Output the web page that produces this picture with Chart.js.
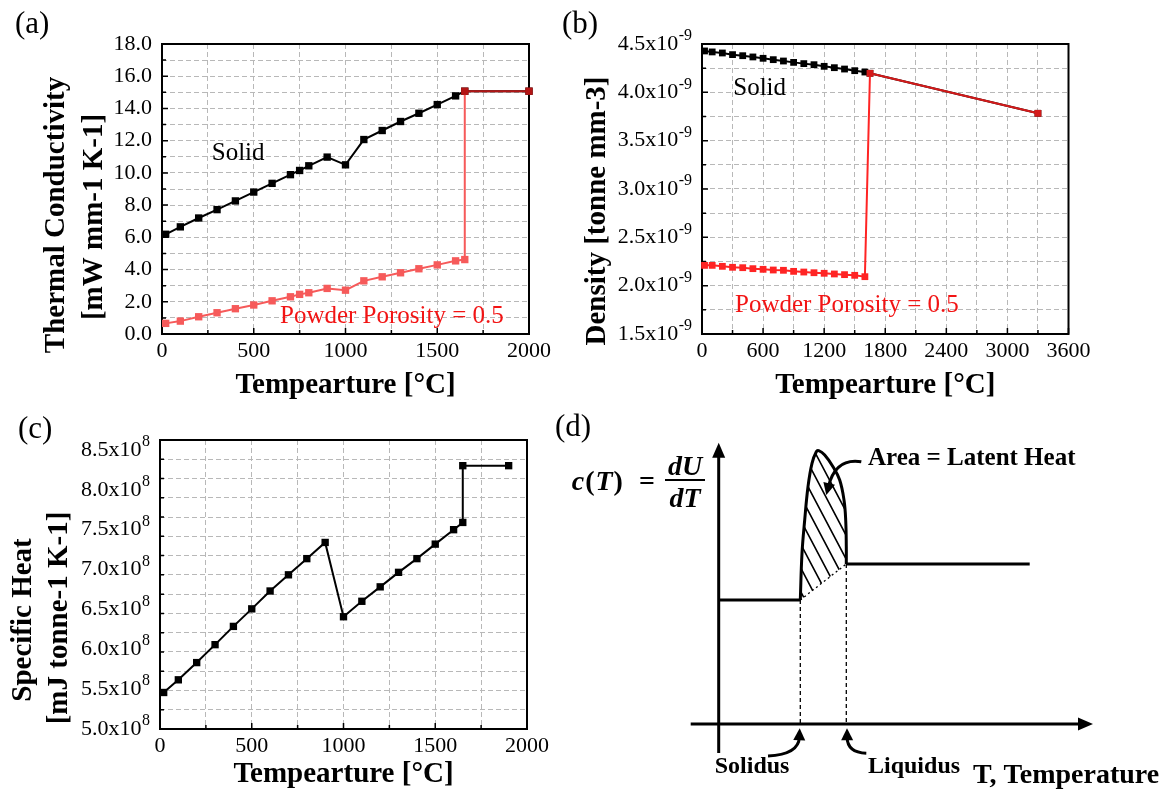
<!DOCTYPE html>
<html>
<head>
<meta charset="utf-8">
<script src="https://cdn.jsdelivr.net/npm/chart.js@4.4.1/dist/chart.umd.min.js"></script>
<style>
  html, body { margin: 0; padding: 0; background: #fff; }
  #page { position: relative; width: 1168px; height: 791px; overflow: hidden; background: #fff; }
  canvas { position: absolute; }
</style>
</head>
<body>
<div id="page">
  <canvas id="chartA" width="560" height="400" style="left:0px;top:0px"></canvas>
  <canvas id="chartB" width="628" height="400" style="left:540px;top:0px"></canvas>
  <canvas id="chartC" width="560" height="391" style="left:0px;top:400px"></canvas>
  <canvas id="chartD" width="628" height="391" style="left:540px;top:400px"></canvas>
</div>
<script>
// ---- (a) thermal conductivity [mW mm-1 K-1] ----
const condTemp = [20, 100, 200, 300, 400, 500, 600, 700, 750, 800, 900, 1000, 1100, 1200, 1300, 1400, 1500, 1600];
const condSolid = [6.19, 6.65, 7.20, 7.72, 8.26, 8.81, 9.35, 9.89, 10.15, 10.44, 10.98, 10.50, 12.07, 12.63, 13.19, 13.70, 14.24, 14.78];
const condPowderTemp = condTemp.concat([1650]);
const condPowder = [0.66, 0.80, 1.07, 1.32, 1.57, 1.80, 2.06, 2.31, 2.46, 2.56, 2.83, 2.72, 3.30, 3.55, 3.80, 4.05, 4.29, 4.54, 4.62];
const condLiquidTemp = [1650, 2000];
const condLiquid = [15.07, 15.07];
const condTicksX = [0, 500, 1000, 1500, 2000];
const condTicksY = [0, 2, 4, 6, 8, 10, 12, 14, 16, 18];

// ---- (b) density [tonne mm-3] ----
const densTemp = [25, 100, 200, 300, 400, 500, 600, 700, 800, 900, 1000, 1100, 1200, 1300, 1400, 1500, 1600];
const densSolid = [4.428e-9, 4.418e-9, 4.407e-9, 4.390e-9, 4.379e-9, 4.366e-9, 4.352e-9, 4.338e-9, 4.324e-9,
  4.310e-9, 4.297e-9, 4.286e-9, 4.269e-9, 4.255e-9, 4.241e-9, 4.224e-9, 4.210e-9];
const densPowder = [2.210e-9, 2.210e-9, 2.200e-9, 2.190e-9, 2.186e-9, 2.176e-9, 2.169e-9, 2.162e-9, 2.159e-9,
  2.148e-9, 2.141e-9, 2.134e-9, 2.128e-9, 2.121e-9, 2.114e-9, 2.107e-9, 2.093e-9];
const densLiquidTemp = [1650, 3300];
const densLiquid = [4.197e-9, 3.783e-9];
const densTicksX = [0, 600, 1200, 1800, 2400, 3000, 3600];
const densTicksY = [1.5, 2.0, 2.5, 3.0, 3.5, 4.0, 4.5]; // x10^-9

// ---- (c) specific heat [mJ tonne-1 K-1] ----
const cpTemp = [20, 100, 200, 300, 400, 500, 600, 700, 800, 900, 1000, 1100, 1200, 1300, 1400, 1500, 1600, 1650, 1650, 1900];
const cpValue = [5.458e8, 5.617e8, 5.833e8, 6.058e8, 6.287e8, 6.507e8, 6.731e8, 6.934e8, 7.137e8, 7.340e8,
  6.408e8, 6.602e8, 6.783e8, 6.965e8, 7.137e8, 7.319e8, 7.500e8, 7.591e8, 8.303e8, 8.303e8];
const cpTicksX = [0, 500, 1000, 1500, 2000];
const cpTicksY = [5.0, 5.5, 6.0, 6.5, 7.0, 7.5, 8.0, 8.5]; // x10^8

// ---- (d) schematic c(T) curve (arbitrary units) ----
const sketchPlateauT = [0, 81.6];
const sketchPlateauC = [124, 124];
const sketchPeakT = [81.6, 83.3, 86, 89.3, 93.3, 97.6, 100, 106, 114.3, 121, 125.3, 127, 127.6, 127.6];
const sketchPeakC = [124, 170.7, 204, 237.3, 260.7, 272.3, 273.3, 269, 257.3, 244, 224, 204, 177.3, 160];
const sketchLiquidT = [127.6, 311];
const sketchLiquidC = [160, 160];
const sketchAxisT = [-28, 374.3];
const sketchAxisC = [-29, 281.3];

const serif = '"Liberation Serif", "Times New Roman", serif';
const pts = (xs, ys, extra) => xs.map((x, i) => Object.assign({ x: x, y: ys[i] }, extra || {}));

// frame, inward ticks, tick labels and texts for panels a-c
const framePlugin = {
  id: 'frame',
  beforeDatasetsDraw(chart, args, o) {
    const { ctx, chartArea: a, scales: { x, y } } = chart;
    const isMajor = (list, scale, v) => list.some(m => Math.abs(m * scale - v) <= Math.abs(v) * 1e-6 + 1e-30);
    ctx.save();
    ctx.strokeStyle = '#000';
    ctx.lineWidth = 1.5;
    ctx.beginPath();
    x.ticks.forEach(t => {
      const px = x.getPixelForValue(t.value);
      const len = isMajor(o.xMajor, 1, t.value) ? 6 : 4;
      ctx.moveTo(px, a.bottom);
      ctx.lineTo(px, a.bottom - len);
    });
    y.ticks.forEach(t => {
      const py = y.getPixelForValue(t.value);
      const len = isMajor(o.yMajor, o.yScale, t.value) ? 6 : 4;
      ctx.moveTo(a.left, py);
      ctx.lineTo(a.left + len, py);
    });
    ctx.stroke();
    ctx.lineWidth = 2;
    ctx.strokeRect(a.left, a.top, a.right - a.left, a.bottom - a.top);
    ctx.restore();
  },
  afterDraw(chart, args, o) {
    const { ctx, chartArea: a, scales: { x, y } } = chart;
    ctx.save();
    ctx.fillStyle = '#000';
    ctx.font = '22px ' + serif;
    ctx.textAlign = 'center';
    ctx.textBaseline = 'top';
    o.xMajor.forEach(v => ctx.fillText(String(v), x.getPixelForValue(v), a.bottom + 6));
    ctx.textAlign = 'right';
    ctx.textBaseline = 'middle';
    o.yMajor.forEach(v => {
      const py = y.getPixelForValue(v * o.yScale);
      const xr = a.left - 10;
      if (o.yExp === undefined) {
        ctx.font = '22px ' + serif;
        ctx.fillText(v.toFixed(1), xr, py);
      } else {
        ctx.font = '16px ' + serif;
        const sw = ctx.measureText(o.yExp).width;
        ctx.fillText(o.yExp, xr, py - 8);
        ctx.font = '22px ' + serif;
        ctx.fillText(v.toFixed(1) + 'x10', xr - sw - 0.5, py);
      }
    });
    (o.texts || []).forEach(t => {
      ctx.save();
      ctx.font = t.font;
      ctx.fillStyle = t.color || '#000';
      ctx.textAlign = t.align || 'left';
      ctx.textBaseline = t.baseline || 'alphabetic';
      let px = t.x, py = t.y;
      if (t.data) { px = x.getPixelForValue(t.x); py = y.getPixelForValue(t.y); }
      ctx.translate(px, py);
      if (t.rot) ctx.rotate(t.rot);
      ctx.fillText(t.text, 0, 0);
      ctx.restore();
    });
    ctx.restore();
  }
};

function axisOpts(min, max, step) {
  return {
    type: 'linear', min: min, max: max,
    afterFit: s => { if (s.isHorizontal()) s.height = 0; else s.width = 0; },
    ticks: { display: false, stepSize: step, autoSkip: false, includeBounds: false },
    grid: { color: '#b8b8b8', lineWidth: 1, drawTicks: false },
    border: { display: false, dash: [5, 3] }
  };
}

function panelChart(id, pad, xAx, yAx, datasets, frame) {
  return new Chart(document.getElementById(id), {
    type: 'scatter',
    data: { datasets: datasets },
    options: {
      responsive: false, animation: false,
      layout: { padding: pad },
      plugins: { legend: { display: false }, tooltip: { enabled: false }, frame: frame },
      scales: { x: xAx, y: yAx }
    },
    plugins: [framePlugin]
  });
}

function series(data, color, extra) {
  return Object.assign({
    data: data, showLine: true, borderColor: color, backgroundColor: color,
    borderWidth: 2, pointStyle: 'rect', pointRadius: 5.2, pointBorderWidth: 0,
    pointBackgroundColor: color, clip: false, tension: 0
  }, extra || {});
}

const boldTitle = 'bold 29px ' + serif;
const note = '25px ' + serif;
const panelFont = '31px ' + serif;

// (a)
const aLight = '#f65a5a', aDark = '#b31515';
panelChart('chartA', { left: 162, top: 44, right: 31, bottom: 66 },
  axisOpts(0, 2000, 250), axisOpts(0, 18, 1),
  [
    series(pts(condPowderTemp, condPowder).concat(pts(condLiquidTemp, condLiquid, { liquid: true })), aLight, {
      order: 0,
      segment: { borderColor: c => (c.p0.raw.liquid && c.p1.raw.liquid) ? aDark : undefined },
      pointBackgroundColor: c => (c.raw && c.raw.liquid) ? aDark : aLight
    }),
    series(pts(condTemp, condSolid).concat(pts(condLiquidTemp, condLiquid)), '#000', { order: 1 })
  ],
  {
    xMajor: condTicksX, yMajor: condTicksY, yScale: 1,
    texts: [
      { text: '(a)', x: 15, y: 33, font: panelFont },
      { text: 'Solid', x: 271, y: 10.77, data: true, font: note },
      { text: 'Powder Porosity = 0.5', x: 643, y: 0.66, data: true, font: note, color: '#f21414' },
      { text: 'Tempearture [\u00B0C]', x: 345.5, y: 393, align: 'center', font: boldTitle },
      { text: 'Thermal Conductivity', x: 57, y: 215, align: 'center', baseline: 'middle', rot: -Math.PI / 2, font: boldTitle },
      { text: '[mW mm-1 K-1]', x: 95, y: 217, align: 'center', baseline: 'middle', rot: -Math.PI / 2, font: boldTitle }
    ]
  });

// (b)
const bLight = '#ff2424', bDark = '#d41a1a';
panelChart('chartB', { left: 162, top: 44, right: 99.5, bottom: 66 },
  axisOpts(0, 3600, 300), axisOpts(1.5e-9, 4.5e-9, 0.25e-9),
  [
    series(pts(densTemp, densPowder).concat(pts(densLiquidTemp, densLiquid, { liquid: true })), bLight, {
      order: 0, pointRadius: 4.8,
      segment: { borderColor: c => (c.p0.raw.liquid && c.p1.raw.liquid) ? bDark : undefined },
      pointBackgroundColor: c => (c.raw && c.raw.liquid) ? bDark : bLight
    }),
    series(pts(densTemp, densSolid).concat(pts(densLiquidTemp, densLiquid)), '#000', { order: 1, pointRadius: 4.8 })
  ],
  {
    xMajor: densTicksX, yMajor: densTicksY, yScale: 1e-9, yExp: '-9',
    texts: [
      { text: '(b)', x: 22, y: 33, font: panelFont },
      { text: 'Solid', x: 307, y: 3.972e-9, data: true, font: note },
      { text: 'Powder Porosity = 0.5', x: 324, y: 1.731e-9, data: true, font: note, color: '#f21414' },
      { text: 'Tempearture [\u00B0C]', x: 345.25, y: 393, align: 'center', font: boldTitle },
      { text: 'Density [tonne mm-3]', x: 58, y: 211, align: 'center', baseline: 'middle', rot: -Math.PI / 2, font: boldTitle }
    ]
  });

// (c)
panelChart('chartC', { left: 160, top: 40, right: 33, bottom: 62 },
  axisOpts(0, 2000, 250), axisOpts(5e8, 8.625e8, 0.25e8),
  [series(pts(cpTemp, cpValue), '#000')],
  {
    xMajor: cpTicksX, yMajor: cpTicksY, yScale: 1e8, yExp: '8',
    texts: [
      { text: '(c)', x: 18, y: 38, font: panelFont },
      { text: 'Tempearture [\u00B0C]', x: 343.5, y: 382, align: 'center', font: boldTitle },
      { text: 'Specific Heat', x: 24, y: 220, align: 'center', baseline: 'middle', rot: -Math.PI / 2, font: boldTitle },
      { text: '[mJ tonne-1 K-1]', x: 60, y: 218, align: 'center', baseline: 'middle', rot: -Math.PI / 2, font: boldTitle }
    ]
  });

// (d) schematic
function arrowHead(ctx, x, y, ang, len, half) {
  ctx.beginPath();
  ctx.moveTo(x, y);
  ctx.lineTo(x - len * Math.cos(ang) + half * Math.sin(ang), y - len * Math.sin(ang) - half * Math.cos(ang));
  ctx.lineTo(x - len * Math.cos(ang) - half * Math.sin(ang), y - len * Math.sin(ang) + half * Math.cos(ang));
  ctx.closePath();
  ctx.fill();
}

const sketchArrows = [
  { from: [142.6, 262.3], ctrl: [116.9, 266.4], to: [107.6, 229] },
  { from: [49.3, -32], ctrl: [80, -30.5], to: [81, -4.3] },
  { from: [147.6, -29.3], ctrl: [128.6, -28.6], to: [128.3, -4.3] }
];
const sketchTexts = [
  { text: 'Area = Latent Heat', x: 149.3, y: 259, font: 'bold 25px ' + serif },
  { text: 'Solidus', x: -4, y: -49, font: 'bold 24px ' + serif },
  { text: 'Liquidus', x: 149.3, y: -49, font: 'bold 24px ' + serif },
  { text: 'T, Temperature', x: 254.3, y: -59, font: 'bold 28px ' + serif }
];

const sketchPlugin = {
  id: 'sketch',
  beforeDatasetsDraw(chart) {
    const { ctx } = chart;
    const meta = chart.getDatasetMeta(1);
    const xs = meta.data.map(p => p.x), ys = meta.data.map(p => p.y);
    const x0 = Math.min(...xs) - 5, x1 = Math.max(...xs) + 5, y0 = Math.min(...ys) - 5, y1 = Math.max(...ys) + 5;
    ctx.save();
    ctx.beginPath();
    meta.dataset.path(ctx);
    ctx.closePath();
    ctx.clip();
    ctx.strokeStyle = '#000';
    ctx.lineWidth = 1.6;
    ctx.beginPath();
    const slope = 1.9, h = y1 - y0;
    for (let k = x0 - h / slope; k < x1; k += 12.5) {
      ctx.moveTo(k, y0);
      ctx.lineTo(k + h / slope, y1);
    }
    ctx.stroke();
    ctx.restore();
  },
  afterDatasetsDraw(chart) {
    const { ctx, scales: { x, y } } = chart;
    const X = v => x.getPixelForValue(v), Y = v => y.getPixelForValue(v);
    ctx.save();
    ctx.strokeStyle = '#000';
    ctx.fillStyle = '#000';
    ctx.lineWidth = 3;
    // axes with arrow heads
    ctx.beginPath();
    ctx.moveTo(X(0), Y(sketchAxisC[0]));
    ctx.lineTo(X(0), Y(sketchAxisC[1]) + 10);
    ctx.moveTo(X(sketchAxisT[0]), Y(0));
    ctx.lineTo(X(sketchAxisT[1]) - 10, Y(0));
    ctx.stroke();
    arrowHead(ctx, X(0), Y(sketchAxisC[1]), -Math.PI / 2, 15, 6.5);
    arrowHead(ctx, X(sketchAxisT[1]), Y(0), 0, 15, 6.5);
    // curved pointers
    sketchArrows.forEach(a => {
      const s = [X(a.from[0]), Y(a.from[1])], c = [X(a.ctrl[0]), Y(a.ctrl[1])], e = [X(a.to[0]), Y(a.to[1])];
      const ang = Math.atan2(e[1] - c[1], e[0] - c[0]);
      ctx.beginPath();
      ctx.moveTo(s[0], s[1]);
      ctx.quadraticCurveTo(c[0], c[1], e[0] - 9 * Math.cos(ang), e[1] - 9 * Math.sin(ang));
      ctx.stroke();
      arrowHead(ctx, e[0], e[1], ang, 12, 6);
    });
    // labels
    ctx.textBaseline = 'alphabetic';
    ctx.textAlign = 'left';
    sketchTexts.forEach(t => {
      ctx.font = t.font;
      ctx.fillText(t.text, X(t.x), Y(t.y));
    });
    ctx.font = '31px ' + serif;
    ctx.fillText('(d)', 15, 36);
    // c(T) = dU/dT
    const it = 'italic bold 28px ' + serif, up = 'bold 28px ' + serif;
    let px = X(-147);
    const base = Y(234);
    [['c', it], ['(', up], ['T', it], [')', up]].forEach(p => {
      ctx.font = p[1];
      ctx.fillText(p[0], px, base);
      px += ctx.measureText(p[0]).width + 1;
    });
    ctx.font = up;
    ctx.textAlign = 'center';
    ctx.fillText('=', X(-71.7), base);
    ctx.font = it;
    ctx.fillText('dU', X(-33.7), Y(249));
    ctx.fillText('dT', X(-33.7), Y(217.3));
    ctx.lineWidth = 2;
    ctx.beginPath();
    ctx.moveTo(X(-53.7), Y(244));
    ctx.lineTo(X(-13.7), Y(244));
    ctx.stroke();
    ctx.restore();
  }
};

function line(data, extra) {
  return Object.assign({
    data: data, showLine: true, borderColor: '#000', borderWidth: 3, pointRadius: 0,
    tension: 0, clip: false, borderCapStyle: 'butt', borderJoinStyle: 'round'
  }, extra || {});
}

new Chart(document.getElementById('chartD'), {
  type: 'scatter',
  data: {
    datasets: [
      line(pts(sketchPlateauT, sketchPlateauC)),
      line(pts(sketchPeakT, sketchPeakC), { tension: 0.4 }),
      line(pts(sketchLiquidT, sketchLiquidC)),
      line(pts([sketchPeakT[0], sketchPeakT[0]], [sketchPlateauC[0], 0]), { borderWidth: 1.3, borderDash: [4, 3] }),
      line(pts([sketchLiquidT[0], sketchLiquidT[0]], [sketchLiquidC[0], 0]), { borderWidth: 1.3, borderDash: [4, 3] }),
      line(pts([sketchPeakT[0], sketchLiquidT[0]], [sketchPlateauC[0], sketchLiquidC[0]]), { borderWidth: 1.3, borderDash: [2, 3] })
    ]
  },
  options: {
    responsive: false, animation: false,
    layout: { padding: 0 },
    plugins: { legend: { display: false }, tooltip: { enabled: false } },
    scales: {
      x: { type: 'linear', display: false, min: -178.7, max: 449.3 },
      y: { type: 'linear', display: false, min: -67, max: 324 }
    }
  },
  plugins: [sketchPlugin]
});
</script>
</body>
</html>
